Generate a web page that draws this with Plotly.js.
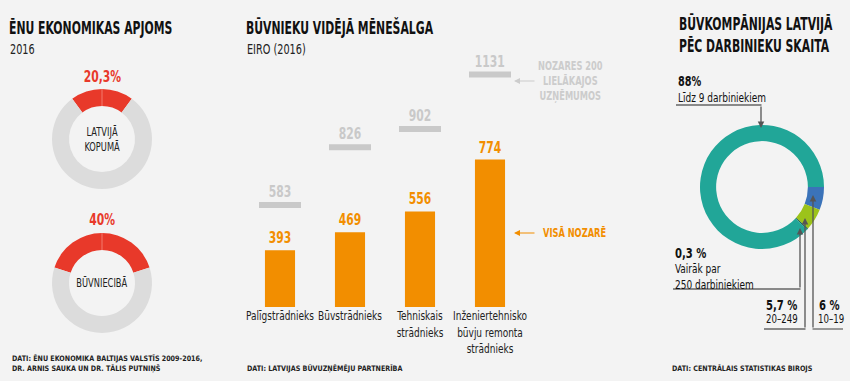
<!DOCTYPE html>
<html><head><meta charset="utf-8">
<script src="https://cdn.plot.ly/plotly-3.0.1.min.js"></script>
<style>html,body{margin:0;padding:0;background:#f3f3f3}
#c text{font-stretch:condensed !important;}</style>
</head><body><div id="c" style="width:850px;height:381px"></div>
<script>
// ---- data ----
const shadowLabels = ['Ēnu ekonomika', 'Pārējā'];
const shadowLatvia = [20.3, 79.7];
const shadowConstruction = [40, 60];

const jobCategories = ['Palīgstrādnieks', 'Būvstrādnieks', 'Tehniskais<br>strādnieks', 'Inženiertehnisko<br>būvju remonta<br>strādnieks'];
const wageAll = [393, 469, 556, 774];
const wageTop200 = [583, 826, 902, 1131];

const sizeLabels = ['10–19', '20–249', 'Vairāk par 250', 'Līdz 9'];
const sizeShares = [6, 5.7, 0.3, 88];

// ---- helpers ----
const W = 850, H = 381;
const px = x => x / W, py = y => 1 - y / H;
const NARROW = '"DejaVu Sans Condensed", "DejaVu Sans", sans-serif';
const RED = '#e8392a', ORANGE = '#f28e00', GREY = '#c9c9c9', RING = '#dcdcdc';

function dom(cx, cy, r) { return {x: [px(cx - r), px(cx + r)], y: [py(cy + r), py(cy - r)]}; }

const traces = [
  {type: 'pie', values: shadowLatvia, labels: shadowLabels, sort: false, direction: 'clockwise',
   rotation: -shadowLatvia[0] * 3.6 / 2, hole: 0.66, textinfo: 'none', hoverinfo: 'none',
   marker: {colors: [RED, RING]}, domain: dom(102, 139, 50)},
  {type: 'pie', values: shadowConstruction, labels: shadowLabels, sort: false, direction: 'clockwise',
   rotation: -shadowConstruction[0] * 3.6 / 2, hole: 0.66, textinfo: 'none', hoverinfo: 'none',
   marker: {colors: [RED, RING]}, domain: dom(102, 283, 50)},
  {type: 'pie', values: sizeShares, labels: sizeLabels, sort: false, direction: 'clockwise',
   rotation: 90, hole: 0.74, textinfo: 'none', hoverinfo: 'none',
   marker: {colors: ['#3b73b9', '#9cc31a', '#1b5d54', '#21a698']}, domain: dom(762, 187, 62)},
  {type: 'bar', x: jobCategories, y: wageAll, width: 0.43, marker: {color: ORANGE},
   text: wageAll.map(String), textposition: 'outside', cliponaxis: false,
   textfont: {family: NARROW, size: 15, color: ORANGE, weight: 'bold'}, hoverinfo: 'none'},
  {type: 'scatter', mode: 'markers', x: jobCategories, y: wageTop200,
   marker: {symbol: 'line-ew', size: 30, line: {width: 6, color: GREY}}, cliponaxis: false, hoverinfo: 'none'}
];

const ann = [];
function t(x, y, text, size, color, opts) {
  ann.push(Object.assign({xref: 'paper', yref: 'paper', x: px(x), y: py(y), text: text, showarrow: false,
    xanchor: 'left', yanchor: 'middle', align: 'left', font: {family: NARROW, size: size, color: color}}, opts || {}));
}
// titles
t(7, 28, '<b>ĒNU EKONOMIKAS APJOMS</b>', 17, '#111');
t(8, 49, '2016', 13.5, '#222');
t(244, 28, '<b>BŪVNIEKU VIDĒJĀ MĒNEŠALGA</b>', 17, '#111');
t(245, 49, 'EIRO (2016)', 13.5, '#222');
t(677, 35, '<b>BŪVKOMPĀNIJAS LATVIJĀ<br>PĒC DARBINIEKU SKAITA</b>', 17, '#111');
// left donut labels
t(102, 77, '<b>' + String(shadowLatvia[0]).replace('.', ',') + '%</b>', 15, RED, {xanchor: 'center', align: 'center'});
t(102, 139, 'LATVIJĀ<br>KOPUMĀ', 11.5, '#222', {xanchor: 'center', align: 'center'});
t(102, 220, '<b>' + shadowConstruction[0] + '%</b>', 15, RED, {xanchor: 'center', align: 'center'});
t(102, 283, 'BŪVNIECIBĀ', 11.5, '#222', {xanchor: 'center', align: 'center'});
// footers
t(10, 363, '<b>DATI: ĒNU EKONOMIKA BALTIJAS VALSTĪS 2009-2016,<br>DR. ARNIS SAUKA UN DR. TĀLIS PUTNIŅŠ</b>', 7.5, '#222');
t(245, 368, '<b>DATI: LATVIJAS BŪVUZŅĒMĒJU PARTNERĪBA</b>', 7.5, '#222');
t(670, 368, '<b>DATI: CENTRĀLAIS STATISTIKAS BIROJS</b>', 7.5, '#222');
// gray value labels (data coords)
wageTop200.forEach((v, i) => ann.push({xref: 'x', yref: 'y', x: jobCategories[i], y: v, yshift: 13,
  text: '<b>' + v + '</b>', showarrow: false, font: {family: NARROW, size: 15, color: GREY}}));
// bar annotations
t(570, 81, '<b>NOZARES 200<br>LIELĀKAJOS<br>UZŅĒMUMOS</b>', 11.5, '#cccccc', {xanchor: 'center', align: 'center'});
ann.push({xref: 'paper', yref: 'paper', x: px(514), y: py(81), ax: 22, ay: 0, text: '', showarrow: true,
  arrowhead: 2, arrowsize: 1, arrowwidth: 1.2, arrowcolor: '#cccccc'});
t(541, 233, '<b>VISĀ NOZARĒ</b>', 11.5, ORANGE);
ann.push({xref: 'paper', yref: 'paper', x: px(514), y: py(233), ax: 22, ay: 0, text: '', showarrow: true,
  arrowhead: 2, arrowsize: 1, arrowwidth: 1.2, arrowcolor: ORANGE});
// right donut callouts
t(676, 81, '<b>' + sizeShares[3] + '%</b>', 13.5, '#111');
t(676, 97, 'Līdz 9 darbiniekiem', 12.5, '#111');
t(673, 253, '<b>' + String(sizeShares[2]).replace('.', ',') + ' %</b>', 14, '#111');
t(673, 276, 'Vairāk par<br>250 darbiniekiem', 12.5, '#111');
t(764, 305, '<b>' + String(sizeShares[1]).replace('.', ',') + ' %</b>', 14, '#111');
t(764, 319, '20–249', 12, '#111');
t(817, 305, '<b>' + sizeShares[0] + ' %</b>', 14, '#111');
t(816, 319, '10–19', 12, '#111');
function arrow(x, tipY, tailY) {
  ann.push({xref: 'paper', yref: 'paper', x: px(x), y: py(tipY), ax: 0, ay: tailY - tipY, text: '', showarrow: true,
    arrowhead: 2, arrowsize: 1, arrowwidth: 1.3, arrowcolor: '#555', standoff: 0});
}
arrow(761, 128, 105);
arrow(800, 228, 289);
arrow(805, 218, 329);
arrow(813, 195, 329);

const L = (x0, y0, x1, y1, c, w) => ({type: 'line', xref: 'paper', yref: 'paper', x0: px(x0), y0: py(y0), x1: px(x1), y1: py(y1), line: {color: c, width: w}});
const shapes = [
  L(676, 105, 761.5, 105, '#666', 1.3),
  L(673, 289, 800.5, 289, '#666', 1.3),
  L(764, 329, 805.5, 329, '#666', 1.3),
  L(812.5, 329, 843, 329, '#666', 1.3),
  L(102, 89, 102, 106, '#f27a6c', 1),
  L(102, 233, 102, 250, '#f27a6c', 1)
];

const layout = {
  width: W, height: H, margin: {l: 0, r: 0, t: 0, b: 0},
  paper_bgcolor: '#f3f3f3', plot_bgcolor: 'rgba(0,0,0,0)', showlegend: false,
  xaxis: {domain: [px(245), px(525)], range: [-0.5, 3.5], type: 'category', showgrid: false, zeroline: false,
    showline: false, ticks: '', tickangle: 0, tickfont: {family: NARROW, size: 12.5, color: '#222'}},
  yaxis: {domain: [py(307), py(60)], range: [155, 1192], visible: false, showgrid: false, zeroline: false},
  annotations: ann, shapes: shapes
};
Plotly.newPlot('c', traces, layout, {displayModeBar: false, staticPlot: true}).then(gd => {
  // squeeze text horizontally to imitate the narrow display typeface
  gd.querySelectorAll('svg text').forEach(el => {
    if (!el.textContent.trim()) return;
    const fs = parseFloat(el.style.fontSize) || 12;
    const s = fs >= 16 ? 0.71 : (fs < 9 ? 0.95 : 0.8);
    const bb = el.getBBox();
    const a = el.getAttribute('text-anchor') || 'start';
    const cx = a === 'middle' ? bb.x + bb.width / 2 : (a === 'end' ? bb.x + bb.width : bb.x);
    const tr = el.getAttribute('transform') || '';
    el.setAttribute('transform', tr + ' translate(' + cx + ',0) scale(' + s + ',1) translate(' + (-cx) + ',0)');
  });
});
</script></body></html>
